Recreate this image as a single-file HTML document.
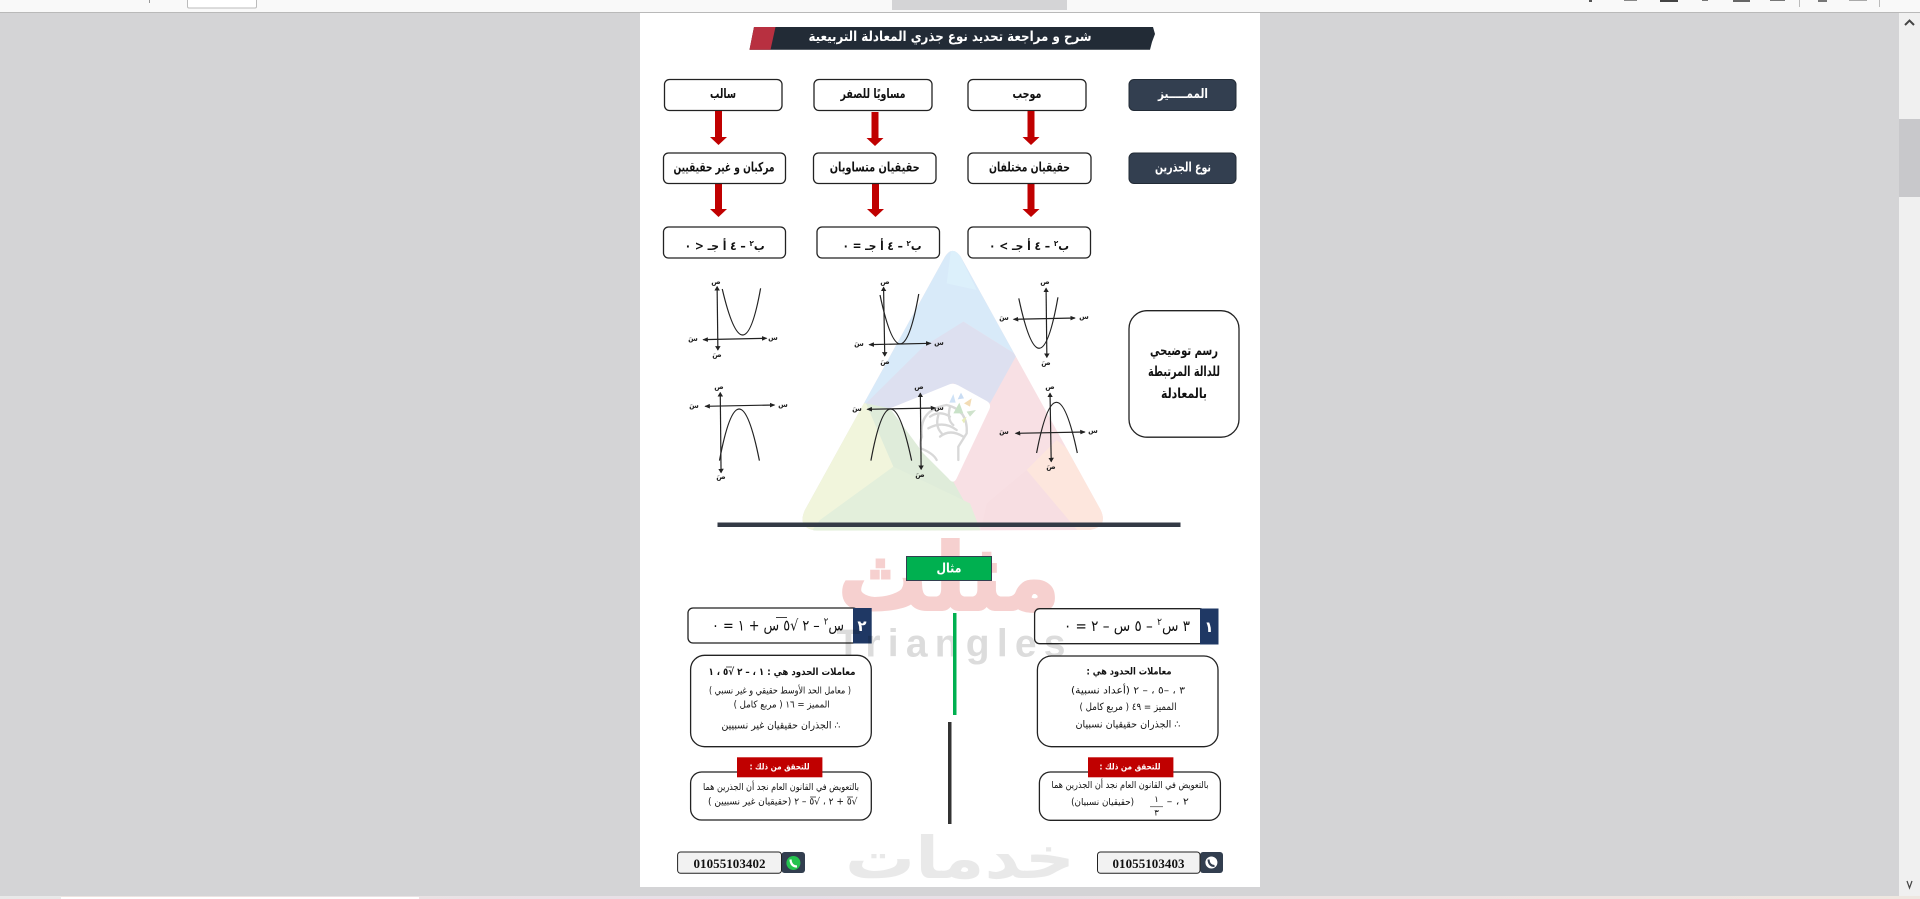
<!DOCTYPE html>
<html lang="ar"><head><meta charset="utf-8"><title>شرح و مراجعة</title>
<style>
html,body{margin:0;padding:0;width:1920px;height:899px;overflow:hidden;background:#d4d4d6}
svg{position:absolute;left:0;top:0;display:block}
text{font-family:"DejaVu Sans","Liberation Sans",sans-serif;direction:rtl;text-anchor:middle;dominant-baseline:central;fill:#111}
.b{font-weight:bold}
.l{direction:ltr}
.s{font-size:7px;font-weight:bold;fill:#222}
.box{fill:#fff;stroke:#222;stroke-width:1.3}
.dark{fill:#333f50;stroke:#222b36;stroke-width:1}
.c{fill:none;stroke:#222;vector-effect:non-scaling-stroke;stroke-width:1.2}
.a{fill:none;stroke:#222;vector-effect:non-scaling-stroke;stroke-width:1.2}
</style></head><body>
<svg width="1920" height="899" viewBox="0 0 1920 899">
<defs>
<linearGradient id="st" x1="0" x2="1"><stop offset="0" stop-color="#eee5e0"/><stop offset=".4" stop-color="#e6dfe8"/><stop offset=".7" stop-color="#ece2e2"/><stop offset="1" stop-color="#eee7e0"/></linearGradient>
<marker id="m" viewBox="0 0 6 6" refX="5" refY="3" markerWidth="14" markerHeight="14" orient="auto-start-reverse" markerUnits="userSpaceOnUse"><path d="M0 0L6 3L0 6z" fill="#222"/></marker>
<clipPath id="tri"><path d="M465 50Q487 15 512 50L932 810Q955 860 900 870L80 872Q20 865 45 810z"/></clipPath>
</defs>

<!-- chrome -->
<rect x="0" y="0" width="1920" height="12" fill="#f9f9f9"/>
<rect x="0" y="12" width="1920" height="1" fill="#b9b9b9"/>
<rect x="149" y="0" width="1" height="3" fill="#999"/>
<rect x="187.500" y="-2" width="69" height="10" rx="1.500" fill="#fff" stroke="#bbb"/>
<rect x="892" y="0" width="175" height="10" fill="#d4d4d6"/>
<rect x="1589" y="0" width="3" height="2" fill="#555"/>
<rect x="1624" y="0" width="13" height="1" fill="#888"/>
<rect x="1660" y="0" width="18" height="2" fill="#444"/>
<rect x="1702" y="0" width="6" height="1" fill="#777"/>
<rect x="1733" y="0" width="17" height="2" fill="#666"/>
<rect x="1770" y="0" width="15" height="1" fill="#777"/>
<rect x="1799" y="0" width="1" height="7" fill="#bbb"/>
<rect x="1818" y="0" width="9" height="2" fill="#777"/>
<rect x="1849" y="0" width="18" height="1" fill="#aaa"/>
<rect x="1879" y="0" width="1" height="7" fill="#bbb"/>
<rect x="1899" y="13" width="21" height="883" fill="#f0f0f0"/>
<rect x="1899" y="119" width="21" height="78" fill="#c8c8cb"/>
<path d="M1905 25L1909.500 20.500L1914 25" fill="none" stroke="#444" stroke-width="2"/>
<path d="M1907 881L1909.500 888L1912 881" fill="none" stroke="#444" stroke-width="1.200"/>
<rect x="0" y="896" width="1920" height="3" fill="url(#st)"/>
<rect x="0" y="896" width="61" height="3" fill="#e9e9e9"/>
<rect x="61" y="897" width="358" height="2" fill="#fff"/>

<!-- page -->
<rect x="640" y="13" width="620" height="874" fill="#fff"/>

<!-- watermark triangle (3x crop coords) -->
<g transform="translate(790,240) scale(.33333)">
<g clip-path="url(#tri)">
<rect x="0" y="0" width="990" height="900" fill="#f8e0e4"/>
<polygon points="0,0 990,0 680,345 520,245 228,490 0,490" fill="#d8eaf9"/>
<polygon points="487,0 560,150 470,130" fill="#dcf0fb"/>
<polygon points="228,490 400,320 520,245 680,345 600,490 490,430 300,505 232,505" fill="#dde0f0"/>
<polygon points="228,490 300,505 490,725 575,880 0,880 0,480" fill="#dfecda"/>
<polygon points="310,680 90,840 60,880 575,880 540,790" fill="#e3efdb"/>
<polygon points="0,480 228,490 310,680 90,840 60,880 0,880" fill="#f1f5dc"/>
<polygon points="710,690 590,790 570,880 870,880" fill="#f7dee2"/>
<polygon points="710,690 870,880 990,880 990,760 800,600" fill="#fde6dd"/>
<path d="M478 433Q490 428 505 436L590 483Q605 492 598 508L500 715Q490 735 475 715L400 640L300 505z" fill="#fff"/>
</g>
<g fill="none" stroke="#d8d8d8" stroke-width="7" stroke-linecap="round">
<path d="M440 660Q430 640 392 625Q388 605 396 590Q385 510 470 495Q535 510 530 580L505 620L505 660"/>
<path d="M420 530Q450 510 480 530M415 565Q460 540 500 570M450 590Q480 565 520 590M480 500Q470 540 490 555M445 525Q435 560 455 580"/>
</g>
<g>
<polygon points="490,462 478,488 497,488" fill="#cfe2f6"/>
<polygon points="513,458 503,478 522,475" fill="#c9dcf3"/>
<polygon points="545,475 522,490 540,500" fill="#f3dcb5"/>
<polygon points="508,488 490,520 520,520" fill="#c9e2c8"/>
<polygon points="558,510 530,515 540,530" fill="#cfe3cc"/>
<polygon points="530,530 515,540 522,550" fill="#e9eeb9"/>
</g>
</g>

<!-- red and grey watermarks -->
<text x="949" y="578" font-size="92" class="b" textLength="222" lengthAdjust="spacingAndGlyphs" stroke="#f6d0cf" stroke-width="3" style="fill:#f6d0cf">مثلث</text>
<text x="960" y="858" font-size="58" textLength="230" lengthAdjust="spacingAndGlyphs" class="b" style="fill:#e9e9e9">خدمات</text>

<!-- title -->
<polygon points="754,27 1153,27 1155,34 1152,42 1150,49.700 749.500,49.700" fill="#222b36"/>
<polygon points="754,27 775.500,27 770.500,49.700 749.500,49.700" fill="#b83040"/>
<text x="950" y="37" font-size="13.500" class="b" textLength="283" lengthAdjust="spacingAndGlyphs" style="fill:#fff">شرح و مراجعة تحديد نوع جذري المعادلة التربيعية</text>

<!-- row 1 -->
<rect class="box" x="664.500" y="79.500" width="117.500" height="31" rx="5"/>
<rect class="box" x="814" y="79.500" width="118" height="31" rx="5"/>
<rect class="box" x="968" y="79.500" width="118" height="31" rx="5"/>
<rect class="dark" x="1129" y="79.500" width="107" height="31" rx="5"/>
<text x="723" y="94.500" font-size="13" class="b" textLength="26" lengthAdjust="spacingAndGlyphs">سالب</text>
<text x="873" y="94.500" font-size="13" class="b" textLength="65" lengthAdjust="spacingAndGlyphs">مساويًا للصفر</text>
<text x="1027" y="94.500" font-size="13" class="b" textLength="29" lengthAdjust="spacingAndGlyphs">موجب</text>
<text x="1183" y="94.500" font-size="13" class="b" textLength="50" lengthAdjust="spacingAndGlyphs" style="fill:#fff">الممـــــيز</text>

<!-- arrows -->
<g fill="#c00000">
<path d="M715 111h7v26h5l-8.500 8l-8.500-8h5z"/>
<path d="M871.500 112h7v26h5l-8.500 8l-8.500-8h5z"/>
<path d="M1027.500 111h7v26h5l-8.500 8l-8.500-8h5z"/>
<path d="M715 184h7v25h5l-8.500 8l-8.500-8h5z"/>
<path d="M872 184h7v25h5l-8.500 8l-8.500-8h5z"/>
<path d="M1027.500 184h7v25h5l-8.500 8l-8.500-8h5z"/>
</g>

<!-- row 2 -->
<rect class="box" x="663.500" y="153" width="122" height="30.500" rx="5"/>
<rect class="box" x="813.500" y="153" width="122.500" height="30.500" rx="5"/>
<rect class="box" x="968" y="153" width="123" height="30.500" rx="5"/>
<rect class="dark" x="1129" y="153" width="107" height="30.500" rx="5"/>
<text x="724" y="168" font-size="13" class="b" textLength="101" lengthAdjust="spacingAndGlyphs">مركبان و غير حقيقيين</text>
<text x="874.700" y="168" font-size="13" class="b" textLength="90" lengthAdjust="spacingAndGlyphs">حقيقيان متساويان</text>
<text x="1029.500" y="168" font-size="13" class="b" textLength="81" lengthAdjust="spacingAndGlyphs">حقيقيان مختلفان</text>
<text x="1183" y="168" font-size="13" class="b" textLength="56" lengthAdjust="spacingAndGlyphs" style="fill:#fff">نوع الجذرين</text>

<!-- row 3 -->
<rect class="box" x="663.500" y="227" width="122" height="31" rx="5"/>
<rect class="box" x="817" y="227" width="122.500" height="31" rx="5"/>
<rect class="box" x="968" y="227" width="122.500" height="31" rx="5"/>
<text x="724.600" y="246" font-size="12" class="b" textLength="80" lengthAdjust="spacingAndGlyphs">ب<tspan dy="-3" font-size="8">٢</tspan><tspan dy="3"> – ٤ أ جـ &lt; ٠</tspan></text>
<text x="882" y="246" font-size="12" class="b" textLength="79" lengthAdjust="spacingAndGlyphs">ب<tspan dy="-3" font-size="8">٢</tspan><tspan dy="3"> – ٤ أ جـ = ٠</tspan></text>
<text x="1029" y="246" font-size="12" class="b" textLength="80" lengthAdjust="spacingAndGlyphs">ب<tspan dy="-3" font-size="8">٢</tspan><tspan dy="3"> – ٤ أ جـ &gt; ٠</tspan></text>

<!-- graphs -->
<g transform="translate(640,270) scale(.3954,.3333)">
<path class="a" d="M195 50L197 240" marker-start="url(#m)" marker-end="url(#m)"/><path class="a" d="M160 209L320 205" marker-start="url(#m)" marker-end="url(#m)"/>
<path class="c" d="M208 57Q263 334 305 55"/>
<path class="a" d="M616 52L619 258" marker-start="url(#m)" marker-end="url(#m)"/><path class="a" d="M580 224L735 220" marker-start="url(#m)" marker-end="url(#m)"/>
<path class="c" d="M607 75Q660 370 705 72"/>
<path class="a" d="M1027 55L1029 262" marker-start="url(#m)" marker-end="url(#m)"/><path class="a" d="M945 148L1100 144" marker-start="url(#m)" marker-end="url(#m)"/>
<path class="c" d="M958 85Q1012 386 1057 82"/>
<path class="a" d="M203 368L205 608" marker-start="url(#m)" marker-end="url(#m)"/><path class="a" d="M165 409L340 405" marker-start="url(#m)" marker-end="url(#m)"/>
<path class="c" d="M201 572Q250 262 302 572"/>
<path class="a" d="M709 370L711 598" marker-start="url(#m)" marker-end="url(#m)"/><path class="a" d="M575 418L747 414" marker-start="url(#m)" marker-end="url(#m)"/>
<path class="c" d="M584 572Q632 262 687 572"/>
<path class="a" d="M1037 370L1040 575" marker-start="url(#m)" marker-end="url(#m)"/><path class="a" d="M950 490L1125 486" marker-start="url(#m)" marker-end="url(#m)"/>
<path class="c" d="M1003 549Q1052 245 1106 549"/>
</g>
<g>
<text class="s" x="716" y="282">ص</text><text class="s" x="717" y="355">صَ</text><text class="s" x="693" y="339">سَ</text><text class="s" x="773" y="338">س</text>
<text class="s" x="885" y="282">ص</text><text class="s" x="885" y="362">صَ</text><text class="s" x="859" y="344">سَ</text><text class="s" x="939" y="343">س</text>
<text class="s" x="1045" y="282">ص</text><text class="s" x="1046" y="363">صَ</text><text class="s" x="1004" y="318">سَ</text><text class="s" x="1084" y="317">س</text>
<text class="s" x="719" y="387">ص</text><text class="s" x="721" y="477">صَ</text><text class="s" x="694" y="406">سَ</text><text class="s" x="783" y="405">س</text>
<text class="s" x="919" y="387">ص</text><text class="s" x="920" y="475">صَ</text><text class="s" x="857" y="409">سَ</text><text class="s" x="939" y="408">س</text>
<text class="s" x="1050" y="387">ص</text><text class="s" x="1051" y="467">صَ</text><text class="s" x="1004" y="432">سَ</text><text class="s" x="1093" y="431">س</text>
</g>

<!-- side box -->
<rect x="1129" y="310.700" width="110" height="126.500" rx="18" fill="#fff" stroke="#222" stroke-width="1.300"/>
<text x="1184" y="351" font-size="13.500" class="b" textLength="68" lengthAdjust="spacingAndGlyphs">رسم توضيحي</text>
<text x="1184" y="372" font-size="13.500" class="b" textLength="72" lengthAdjust="spacingAndGlyphs">للدالة المرتبطة</text>
<text x="1184" y="394" font-size="13.500" class="b" textLength="46" lengthAdjust="spacingAndGlyphs">بالمعادلة</text>

<rect x="717.500" y="522.500" width="463" height="4.500" fill="#333a45"/>

<!-- example -->
<rect x="906.500" y="556.500" width="85" height="24" fill="#00b050" stroke="#333f50"/>
<text x="949" y="569" font-size="13" class="b" textLength="25" lengthAdjust="spacingAndGlyphs" style="fill:#fff">مثال</text>

<!-- eq headers -->
<rect class="box" x="1034.600" y="608.700" width="170" height="35" rx="5"/>
<rect x="1200" y="608.500" width="18.500" height="36" fill="#1f3864"/>
<text x="1209" y="627" font-size="15" class="b" style="fill:#fff">١</text>
<text x="1127" y="626" font-size="15" textLength="126" lengthAdjust="spacingAndGlyphs">٣ س<tspan dy="-4" font-size="10">٢</tspan><tspan dy="4"> – ٥ س – ٢ = ٠</tspan></text>

<rect class="box" x="688" y="608" width="170" height="35" rx="5"/>
<rect x="853" y="608" width="18.700" height="35.500" fill="#1f3864"/>
<text x="862" y="626" font-size="15" class="b" style="fill:#fff">٢</text>
<text x="778" y="625.500" font-size="15" textLength="132" lengthAdjust="spacingAndGlyphs">س<tspan dy="-4" font-size="10">٢</tspan><tspan dy="4"> – ٢ √٥ س + ١ = ٠</tspan></text>
<line x1="776" y1="617.500" x2="787" y2="617.500" stroke="#111" stroke-width=".8"/>

<!-- grey watermark over the headers -->
<text x="951" y="644" font-size="39" class="b l" textLength="229" style="fill:#dcdcdc;mix-blend-mode:multiply;font-family:'Liberation Sans',sans-serif">Triangles</text>

<!-- centre lines -->
<rect x="953" y="613" width="3.500" height="102" fill="#00b050"/>
<rect x="948" y="722" width="3.500" height="102" fill="#333"/>

<!-- cards -->
<rect class="box" x="1037.400" y="656" width="180.600" height="90.700" rx="14"/>
<text x="1129" y="672" font-size="10" class="b" textLength="85" lengthAdjust="spacingAndGlyphs">معاملات الحدود هي :</text>
<text x="1128" y="691" font-size="10" textLength="114" lengthAdjust="spacingAndGlyphs">٣ ، –٥ ، – ٢ (أعداد نسبية)</text>
<text x="1128" y="707.300" font-size="10" textLength="97" lengthAdjust="spacingAndGlyphs">المميز = ٤٩ ( مربع كامل )</text>
<text x="1128" y="725" font-size="10" textLength="105" lengthAdjust="spacingAndGlyphs">∴  الجذران حقيقيان نسبيان</text>

<rect class="box" x="690.600" y="655.300" width="180.700" height="91.400" rx="14"/>
<text x="782" y="672.700" font-size="10" class="b" textLength="147" lengthAdjust="spacingAndGlyphs">معاملات الحدود هي : ١ ، – ٢ √٥ ، ١</text>
<line x1="726" y1="667" x2="732" y2="667" stroke="#111" stroke-width=".7"/>
<text x="780" y="691" font-size="9.500" textLength="142" lengthAdjust="spacingAndGlyphs">( معامل الحد الأوسط حقيقي و غير نسبي )</text>
<text x="781.600" y="705" font-size="9.500" textLength="96" lengthAdjust="spacingAndGlyphs">المميز = ١٦ ( مربع كامل )</text>
<text x="781" y="726" font-size="10" textLength="119" lengthAdjust="spacingAndGlyphs">∴  الجذران حقيقيان غير نسبيين</text>

<!-- verify boxes -->
<rect class="box" x="1039.400" y="772" width="181" height="48.300" rx="11"/>
<rect class="box" x="690.600" y="772" width="180.700" height="48" rx="11"/>
<rect x="1088" y="757.300" width="85.400" height="20" fill="#c00000"/>
<rect x="737" y="757.300" width="85.400" height="20" fill="#c00000"/>
<text x="1130" y="767.500" font-size="8.500" class="b" textLength="61" lengthAdjust="spacingAndGlyphs" style="fill:#fff">للتحقق من ذلك :</text>
<text x="779.600" y="767.500" font-size="8.500" class="b" textLength="60" lengthAdjust="spacingAndGlyphs" style="fill:#fff">للتحقق من ذلك :</text>

<text x="1130" y="785.700" font-size="9.500" textLength="157" lengthAdjust="spacingAndGlyphs">بالتعويض في القانون العام نجد أن الجذرين هما</text>
<text x="1177.800" y="802" font-size="9.500" textLength="22" lengthAdjust="spacingAndGlyphs">٢ ، –</text>
<text x="1156.500" y="800" font-size="8.500">١</text>
<line x1="1150" y1="806.700" x2="1163" y2="806.700" stroke="#555" stroke-width=".8"/>
<text x="1156.500" y="813.300" font-size="8.500">٣</text>
<text x="1102.600" y="802.700" font-size="9.500" textLength="63" lengthAdjust="spacingAndGlyphs">(حقيقيان نسبيان)</text>

<text x="781" y="787.700" font-size="9.500" textLength="156" lengthAdjust="spacingAndGlyphs">بالتعويض في القانون العام نجد أن الجذرين هما</text>
<text x="782.700" y="802" font-size="9.500" textLength="149.500" lengthAdjust="spacingAndGlyphs">√٥ + ٢ ، √٥ – ٢ (حقيقيان غير نسبيين )</text>
<line x1="810" y1="797" x2="816" y2="797" stroke="#111" stroke-width=".7"/>
<line x1="847" y1="797" x2="853" y2="797" stroke="#111" stroke-width=".7"/>

<!-- phones -->
<rect x="1200" y="852" width="23" height="21" rx="3" fill="#323e4f"/>
<rect x="1097.500" y="852" width="102.500" height="21.300" rx="3" fill="#f2f2f2" stroke="#222" stroke-width="1"/>
<circle cx="1211.400" cy="862.500" r="6" fill="#fff"/>
<path d="M1208.500 859.500Q1209 866 1214.500 866" fill="none" stroke="#323e4f" stroke-width="2"/>
<text x="1148.500" y="863.500" font-size="13" class="b l" textLength="72" style="font-family:'Liberation Serif',serif">01055103403</text>

<rect x="781.500" y="852" width="23.500" height="21" rx="3" fill="#323e4f"/>
<rect x="677.600" y="852" width="103.900" height="21.300" rx="3" fill="#f2f2f2" stroke="#222" stroke-width="1"/>
<circle cx="793.400" cy="863" r="7" fill="#25c34f"/>
<path d="M790.500 859.500Q791 866.500 797 866.500" fill="none" stroke="#fff" stroke-width="2.200"/>
<text x="729.500" y="863.500" font-size="13" class="b l" textLength="72" style="font-family:'Liberation Serif',serif">01055103402</text>
</svg>
</body></html>
